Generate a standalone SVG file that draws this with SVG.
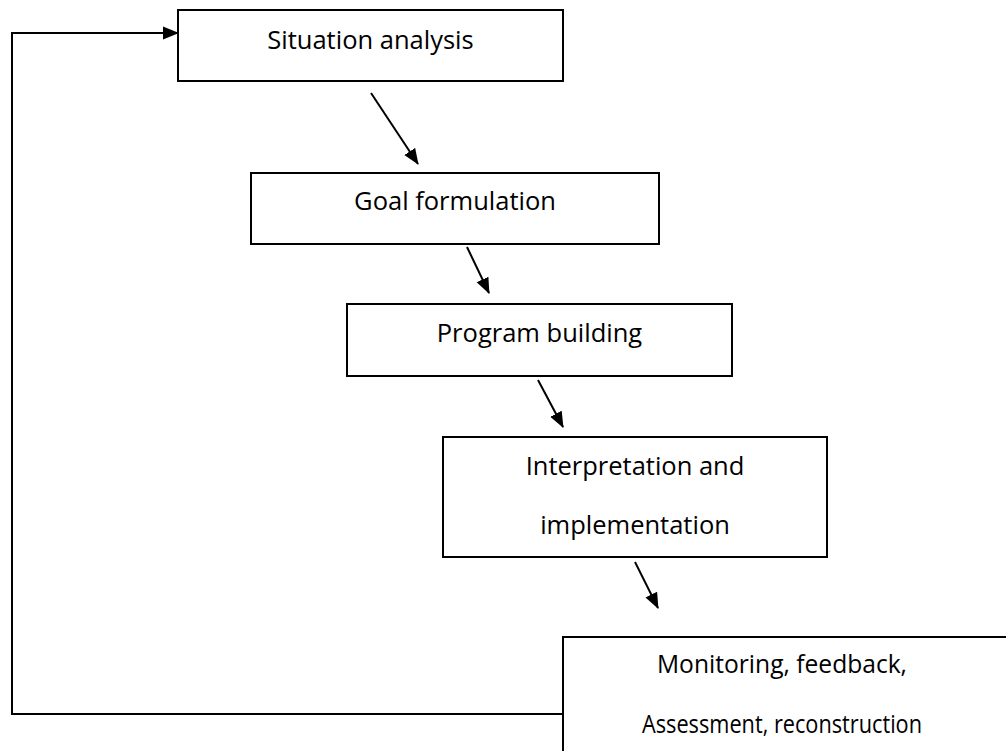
<svg xmlns="http://www.w3.org/2000/svg" width="1006" height="751" viewBox="0 0 1006 751">
<style>
.box{fill:#fff;stroke:#000;stroke-width:2}
.lbl{font-family:"Open Sans","Liberation Sans",sans-serif;font-size:25.5px;fill:#000;text-anchor:middle}
.con{fill:none;stroke:#000;stroke-width:2}
</style>
<defs>
<marker id="ah" markerWidth="16" markerHeight="14" refX="15" refY="7" orient="auto" markerUnits="userSpaceOnUse" viewBox="0 0 16 14">
<path d="M0,0.5 L16,7 L0,13.5 Z" fill="#000"/>
</marker>
</defs>
<rect width="1006" height="751" fill="#fff"/>
<g id="connectors">
<line class="con" x1="371" y1="93" x2="418" y2="164" marker-end="url(#ah)"/>
<line class="con" x1="467" y1="247" x2="489" y2="293" marker-end="url(#ah)"/>
<line class="con" x1="538" y1="380" x2="563" y2="427" marker-end="url(#ah)"/>
<line class="con" x1="635" y1="562" x2="658" y2="608" marker-end="url(#ah)"/>
<polyline class="con" points="563,714 12,714 12,33 178,33" marker-end="url(#ah)"/>
</g>
<g id="n1">
<rect class="box" x="178" y="10" width="385" height="71"/>
<text class="lbl" x="370.5" y="49">Situation analysis</text>
</g>
<g id="n2">
<rect class="box" x="251" y="173" width="408" height="71"/>
<text class="lbl" x="455" y="210">Goal formulation</text>
</g>
<g id="n3">
<rect class="box" x="347" y="304" width="385" height="72"/>
<text class="lbl" x="539.5" y="342">Program building</text>
</g>
<g id="n4">
<rect class="box" x="443" y="437" width="384" height="120"/>
<text class="lbl" x="635" y="475">Interpretation and</text>
<text class="lbl" x="635" y="534">implementation</text>
</g>
<g id="n5">
<rect class="box" x="563" y="637" width="460" height="130"/>
<text class="lbl" x="782" y="673" textLength="250" lengthAdjust="spacingAndGlyphs">Monitoring, feedback,</text>
<text class="lbl" x="782" y="733" textLength="280" lengthAdjust="spacingAndGlyphs">Assessment, reconstruction</text>
</g>
</svg>
